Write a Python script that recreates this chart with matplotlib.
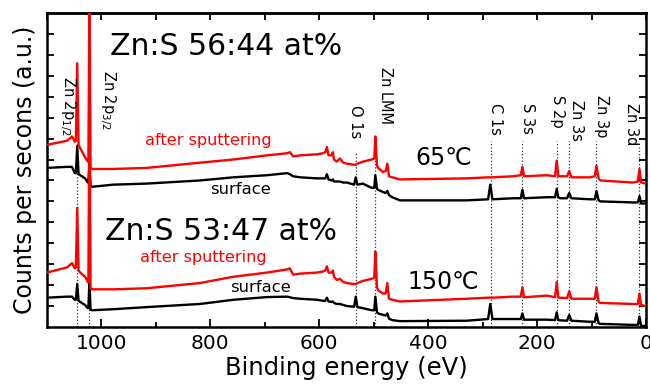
import matplotlib
matplotlib.use("Agg")
import matplotlib.pyplot as plt
import numpy as np

plt.rcParams['font.family'] = ['DejaVu Sans']

# ---- data (binding energy grid, eV, descending) ----
energy = [1100, 1063, 1054, 1049, 1047, 1044.5, 1042, 1039, 1030, 1025, 1024, 1022, 1020, 1017,
          978, 917, 819, 758, 696, 659, 654, 648, 635, 604, 593, 589, 586, 583, 577, 575, 573,
          568, 562, 556, 549, 536, 533, 530, 520, 512, 504, 499, 497, 494, 492, 483, 478, 475,
          472, 466, 452, 329, 290, 286, 282, 244, 230, 227, 224, 182, 167, 164, 161, 158, 145,
          141, 137, 103, 94, 91, 87, 84, 24, 15, 12, 9, 0]

red_65 = [8.7, 8.9, 9.1, 8.85, 8.9, 12.6, 8.7, 8.55, 8.1, 7.9, 7.9, 16.0, 7.6, 7.55,
          7.55, 7.6, 7.85, 8.0, 8.2, 8.3, 8.35, 8.15, 8.2, 8.25, 8.3, 8.35, 8.6, 8.2, 8.2, 8.35, 8.0,
          7.9, 8.05, 7.85, 7.8, 7.75, 7.75, 7.8, 7.9, 7.95, 8.0, 8.05, 9.1, 7.7, 7.6, 7.4, 7.45, 7.8,
          7.2, 7.15, 7.05, 7.1, 7.15, 7.15, 7.15, 7.2, 7.25, 7.65, 7.2, 7.25, 7.2, 7.95, 7.2, 7.2, 7.2,
          7.45, 7.15, 7.15, 7.2, 7.7, 7.1, 7.0, 6.9, 6.95, 7.55, 6.9, 6.85]

black_65 = [7.6, 7.65, 7.65, 7.35, 7.35, 8.65, 7.3, 7.25, 7.1, 6.9, 6.9, 7.9, 6.75, 6.7,
            6.8, 6.85, 7.0, 7.15, 7.25, 7.35, 7.3, 7.2, 7.15, 7.1, 7.1, 7.1, 7.3, 7.05, 7.0, 7.05, 6.95,
            6.95, 6.95, 6.9, 6.9, 6.8, 7.15, 6.8, 6.85, 6.75, 6.65, 6.65, 7.25, 6.6, 6.55, 6.45, 6.4, 6.5,
            6.3, 6.2, 6.05, 6.05, 6.1, 6.8, 6.1, 6.15, 6.15, 6.55, 6.15, 6.2, 6.2, 6.6, 6.2, 6.15, 6.15,
            6.4, 6.15, 6.1, 6.1, 6.5, 6.05, 6.0, 5.95, 5.95, 6.25, 5.9, 5.9]

red_150 = [2.6, 2.85, 3.05, 2.8, 2.85, 5.7, 2.7, 2.6, 2.4, 2.15, 2.15, 11.0, 1.85, 1.8,
           1.8, 1.85, 2.1, 2.4, 2.6, 2.75, 2.8, 2.5, 2.55, 2.6, 2.65, 2.7, 2.9, 2.6, 2.6, 2.7, 2.4,
           2.25, 2.3, 2.15, 2.1, 2.05, 2.05, 2.1, 2.2, 2.25, 2.3, 2.35, 3.6, 1.9, 1.75, 1.6, 1.6, 2.1,
           1.35, 1.3, 1.22, 1.35, 1.4, 1.4, 1.4, 1.45, 1.45, 1.9, 1.42, 1.5, 1.42, 2.15, 1.4, 1.4, 1.38,
           1.7, 1.35, 1.35, 1.35, 1.9, 1.2, 1.15, 1.1, 1.1, 1.6, 1.05, 1.0]

black_150 = [1.4, 1.45, 1.45, 1.3, 1.3, 2.05, 1.25, 1.2, 1.05, 0.9, 0.9, 2.25, 0.82, 0.8,
             0.85, 0.95, 1.1, 1.3, 1.43, 1.45, 1.42, 1.38, 1.35, 1.3, 1.25, 1.25, 1.4, 1.22, 1.2, 1.22, 1.15,
             1.1, 1.1, 1.05, 1.0, 0.97, 1.45, 0.95, 0.9, 0.85, 0.8, 0.8, 1.45, 0.7, 0.65, 0.58, 0.55, 0.65,
             0.4, 0.33, 0.28, 0.3, 0.38, 1.1, 0.38, 0.38, 0.38, 0.65, 0.35, 0.35, 0.33, 0.7, 0.33, 0.32, 0.3,
             0.57, 0.3, 0.25, 0.25, 0.65, 0.18, 0.15, 0.1, 0.1, 0.5, 0.05, 0.05]

# peak markers
peak_labels = ['Zn 2p$_{1/2}$', 'Zn 2p$_{3/2}$', 'O 1s', 'Zn LMM', 'C 1s', 'S 3s', 'S 2p',
               'Zn 3s', 'Zn 3p', 'Zn 3d']
peak_energy = [1045, 1022, 533, 497, 285, 227, 164, 141, 91, 12]
line_top = [9.0, 9.0, 8.35, 9.0, 8.9, 8.9, 8.9, 8.9, 8.9, 8.6]
label_x = [1061, 988, 534, 479, 277, 218, 163, 127, 81, 26]
label_top = [12.0, 12.3, 10.6, 12.4, 10.7, 10.7, 11.1, 10.85, 11.1, 10.7]

x_ticks = [1000, 800, 600, 400, 200, 0]

# ---- figure ----
fig = plt.figure(figsize=(6.5, 3.86), dpi=100)
ax = fig.add_axes([47 / 650, 1 - 327 / 386, (646 - 47) / 650, (327 - 13) / 386])

for e, top in zip(peak_energy, line_top):
    ax.plot([e, e], [0, top], linestyle=':', color='#333333', lw=0.9, zorder=1)

ax.plot(energy, black_65, color='black', lw=1.7, zorder=2)
ax.plot(energy, black_150, color='black', lw=1.7, zorder=2)
ax.plot(energy, red_65, color='#ff0000', lw=1.7, zorder=3)
ax.plot(energy, red_150, color='#ff0000', lw=1.7, zorder=3)

for lab, lx, lt in zip(peak_labels, label_x, label_top):
    ax.text(lx, lt, lab, rotation=-90, ha='center', va='top', fontsize=10.5)

ax.text(984, 13.4, 'Zn:S 56:44 at%', fontsize=21.5, ha='left', va='center')
ax.text(993, 4.54, 'Zn:S 53:47 at%', fontsize=21.5, ha='left', va='center')
ax.text(920, 8.93, 'after sputtering', fontsize=11.6, color='#ff0000', ha='left', va='center')
ax.text(929, 3.3, 'after sputtering', fontsize=11.6, color='#ff0000', ha='left', va='center')
ax.text(800, 6.55, 'surface', fontsize=11.8, ha='left', va='center')
ax.text(764, 1.9, 'surface', fontsize=11.8, ha='left', va='center')
ax.text(424, 8.07, '65\u2103', fontsize=17, ha='left', va='center')
ax.text(439, 2.15, '150\u2103', fontsize=17, ha='left', va='center')

ax.set_xlim(1100, 0)
ax.set_ylim(0, 15)
ax.set_xticks(x_ticks)
ax.set_xticklabels([str(t) for t in x_ticks])
ax.set_xticks(np.arange(100, 1100, 200), minor=True)
ax.set_yticks(np.arange(1, 15))
ax.set_yticklabels([])
ax.tick_params(axis='x', which='major', direction='in', length=6, width=1.3, labelsize=14.5, pad=5)
ax.tick_params(axis='x', which='minor', direction='in', length=3.5, width=1.3)
ax.tick_params(axis='y', which='both', direction='in', length=5, width=1.3, left=True, right=True)

sec = ax.secondary_xaxis('top')
sec.set_xticks(np.arange(0, 1101, 100))
sec.set_xticklabels([])
sec.tick_params(direction='in', length=5, width=1.3)
sec.spines['top'].set_linewidth(1.8)

for s in ax.spines.values():
    s.set_linewidth(1.8)

ax.set_xlabel('Binding energy (eV)', fontsize=17.5, labelpad=2)
ax.set_ylabel('Counts per secons (a.u.)', fontsize=17, labelpad=4)

fig.savefig('out.png', dpi=100)
